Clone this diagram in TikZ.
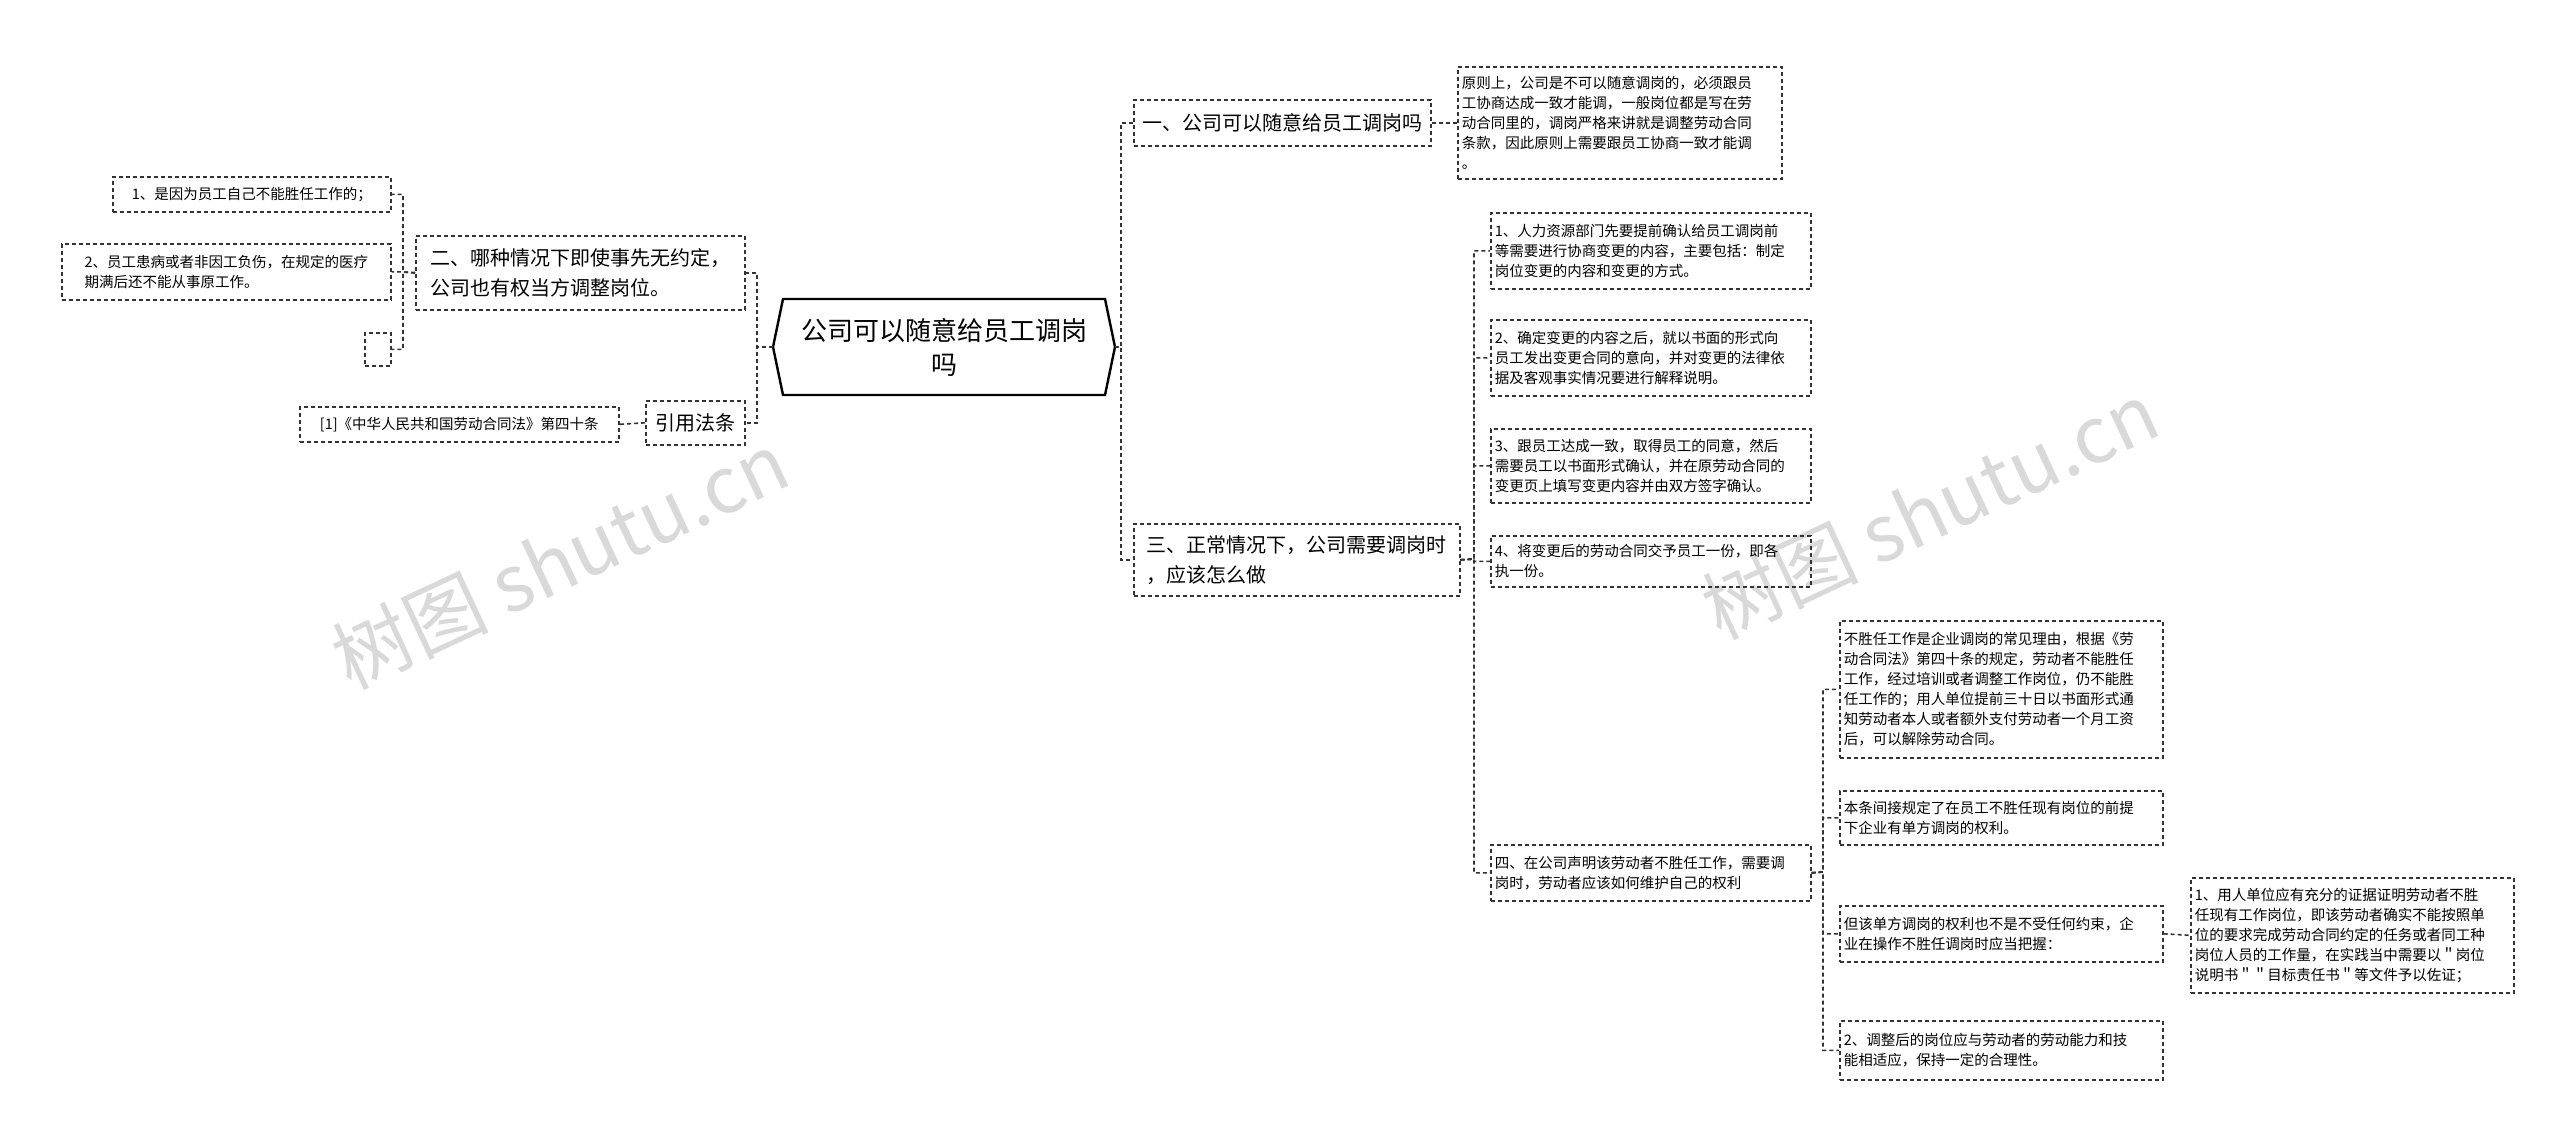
\documentclass[tikz,border=0pt]{standalone}
\usepackage{fontspec}
\setmainfont{Noto Sans CJK SC}
\begin{document}
\begin{tikzpicture}[x=1pt,y=-1pt,
  box/.style={draw=black!80,dashed,dash pattern=on 4pt off 3pt,line width=1.6pt,align=left,inner sep=4pt,anchor=north west,font=\fontsize{14.5}{20}\selectfont},
  big/.style={box,font=\fontsize{20}{30}\selectfont},
  wm/.style={text=black!15,rotate=25,font=\fontsize{78}{78}\selectfont},
  conn/.style={draw=black!80,line width=1.6pt,dash pattern=on 4pt off 3pt}]
\useasboundingbox (0,0) rectangle (2560,1136);
\fill[white] (0,0) rectangle (2560,1136);
% watermarks
\node[wm] (wm1) at (560,560) {树图 shutu.cn};
\node[wm] (wm2) at (1930,510) {树图 shutu.cn};
% center
\node[align=center,text width=290pt,font=\fontsize{26}{34}\selectfont] (c) at (944,347) {公司可以随意给员工调岗\\吗};
\draw[line width=2.4pt] (783,299) -- (1105,299) -- (1115,347) -- (1105,395) -- (783,395) -- (773,347) -- cycle;
\coordinate (cw) at (773,347); \coordinate (ce) at (1115,347);
% left
\node[big,minimum width=329pt,minimum height=74pt] (b2) at (415,235) {二、哪种情况下即使事先无约定，\\公司也有权当方调整岗位。};
\node[box,minimum width=278pt,minimum height=35pt] (s1) at (112,176) {1、是因为员工自己不能胜任工作的；};
\node[box,minimum width=329pt,minimum height=56pt] (s2) at (61,243) {2、员工患病或者非因工负伤，在规定的医疗\\期满后还不能从事原工作。};
\node[box,minimum width=26pt,minimum height=33pt] (s3) at (364,332) {};
\node[big,minimum width=99pt,minimum height=44pt,inner sep=3pt] (law) at (645,400) {引用法条};
\node[box,minimum width=319pt,minimum height=35pt] (law1) at (299,406) {[1]《中华人民共和国劳动合同法》第四十条};
% right
\node[big,minimum width=297pt,minimum height=46pt] (b1) at (1133,99) {一、公司可以随意给员工调岗吗};
\node[box,text width=316pt,minimum height=112pt] (p1) at (1457,66) {原则上，公司是不可以随意调岗的，必须跟员\\工协商达成一致才能调，一般岗位都是写在劳\\动合同里的，调岗严格来讲就是调整劳动合同\\条款，因此原则上需要跟员工协商一致才能调\\。};
\node[big,minimum width=326pt,minimum height=72pt] (b3) at (1133,523) {三、正常情况下，公司需要调岗时\\，应该怎么做};
\node[box,text width=312pt,minimum height=76pt] (t1) at (1490,212) {1、人力资源部门先要提前确认给员工调岗前\\等需要进行协商变更的内容，主要包括：制定\\岗位变更的内容和变更的方式。};
\node[box,text width=312pt,minimum height=76pt] (t2) at (1490,319) {2、确定变更的内容之后，就以书面的形式向\\员工发出变更合同的意向，并对变更的法律依\\据及客观事实情况要进行解释说明。};
\node[box,text width=312pt,minimum height=74pt] (t3) at (1490,428) {3、跟员工达成一致，取得员工的同意，然后\\需要员工以书面形式确认，并在原劳动合同的\\变更页上填写变更内容并由双方签字确认。};
\node[box,text width=312pt,minimum height=51pt] (t4) at (1490,535) {4、将变更后的劳动合同交予员工一份，即各\\执一份。};
\node[box,text width=312pt,minimum height=56pt] (t5) at (1490,844) {四、在公司声明该劳动者不胜任工作，需要调\\岗时，劳动者应该如何维护自己的权利};
\node[box,text width=315pt,minimum height=137pt] (u1) at (1839,620) {不胜任工作是企业调岗的常见理由，根据《劳\\动合同法》第四十条的规定，劳动者不能胜任\\工作，经过培训或者调整工作岗位，仍不能胜\\任工作的；用人单位提前三十日以书面形式通\\知劳动者本人或者额外支付劳动者一个月工资\\后，可以解除劳动合同。};
\node[box,text width=315pt,minimum height=54pt] (u2) at (1839,790) {本条间接规定了在员工不胜任现有岗位的前提\\下企业有单方调岗的权利。};
\node[box,text width=315pt,minimum height=56pt] (u3) at (1839,905) {但该单方调岗的权利也不是不受任何约束，企\\业在操作不胜任调岗时应当把握：};
\node[box,text width=315pt,minimum height=59pt] (u4) at (1839,1020) {2、调整后的岗位应与劳动者的劳动能力和技\\能相适应，保持一定的合理性。};
\node[box,text width=315pt,minimum height=115pt] (v1) at (2190,877) {1、用人单位应有充分的证据证明劳动者不胜\\任现有工作岗位，即该劳动者确实不能按照单\\位的要求完成劳动合同约定的任务或者同工种\\岗位人员的工作量，在实践当中需要以＂岗位\\说明书＂＂目标责任书＂等文件予以佐证；};
% connectors
\draw[conn] (ce) -- (1121,347) |- (b1.west);
\draw[conn] (ce) -- (1121,347) |- (b3.west);
\draw[conn] (cw) -- (757,347) |- (b2.east);
\draw[conn] (cw) -- (757,347) |- (law.east);
\draw[conn] (b2.west) -- (403,272) |- (s1.east);
\draw[conn] (b2.west) -- (403,272) |- (s2.east);
\draw[conn] (b2.west) -- (403,272) |- (s3.east);
\draw[conn] (law.west) -- (law1.east);
\draw[conn] (b1.east) -- (p1.west);
\foreach \t in {t1,t2,t3,t4,t5} \draw[conn] (b3.east) -- (1474,559) |- (\t.west);
\foreach \t in {u1,u2,u3,u4} \draw[conn] (t5.east) -- (1823,872) |- (\t.west);
\draw[conn] (u3.east) -- (v1.west);
\end{tikzpicture}
\end{document}
